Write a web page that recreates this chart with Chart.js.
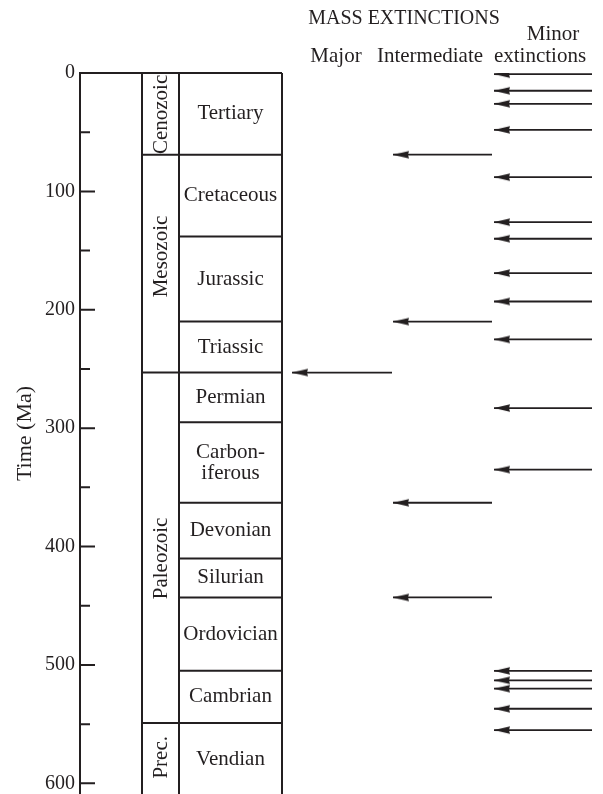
<!DOCTYPE html>
<html>
<head>
<meta charset="utf-8">
<title>Mass extinctions and the geologic time scale</title>
<script src="https://cdn.jsdelivr.net/npm/chart.js@4/dist/chart.umd.min.js"></script>
<style>
  html, body { margin: 0; padding: 0; background: #fff; }
</style>
</head>
<body>
<canvas id="chart" width="603" height="794"></canvas>
<script>
// Eras and periods (boundaries in Ma)
const eraNames = ["Cenozoic", "Mesozoic", "Paleozoic", "Prec."];
const eraBounds = [0, 69, 253, 549, 610];
const eraLabelAt = [35, 155, 410, 578];

const periodNames = ["Tertiary", "Cretaceous", "Jurassic", "Triassic", "Permian",
  ["Carbon-", "iferous"], "Devonian", "Silurian", "Ordovician", "Cambrian", "Vendian"];
const periodBounds = [0, 69, 138, 210, 253, 295, 363, 410, 443, 505, 549, 610];

// Extinction events (Ma)
const majorTimes = [253];
const intermediateTimes = [69, 210, 363, 443];
const minorTimes = [1, 15, 26, 48, 88, 126, 140, 169, 193, 225, 283, 335, 505, 513, 520, 537, 555];

// Axis ticks
const tickValues = [0, 50, 100, 150, 200, 250, 300, 350, 400, 450, 500, 550, 600];

const ink = "#231f20";
const serif = "'Liberation Serif', 'Times New Roman', serif";

// column layout on the x scale (0..520)
const col = { era: 62, period: 99, right: 202 };
const arrowCols = {
  major: { tip: 212, tail: 312 },
  intermediate: { tip: 313, tail: 412 },
  minor: { tip: 414, tail: 512 },
};

// arrowhead used as point style
const arrowHead = document.createElement("canvas");
arrowHead.width = 36;
arrowHead.height = 10;
(function () {
  const c = arrowHead.getContext("2d");
  c.fillStyle = ink;
  c.beginPath();
  c.moveTo(18, 5);
  c.lineTo(34, 1.3);
  c.lineTo(33, 5);
  c.lineTo(34, 8.7);
  c.closePath();
  c.fill();
})();

function arrowDatasets(times, cols) {
  return times.map((t) => ({
    data: [{ x: cols.tip, y: t }, { x: cols.tail, y: t }],
    showLine: true,
    borderColor: ink,
    borderWidth: 1.8,
    pointStyle: [arrowHead, "circle"],
    pointRadius: [5, 0],
    pointHoverRadius: 0,
  }));
}

const datasets = [
  ...arrowDatasets(majorTimes, arrowCols.major),
  ...arrowDatasets(intermediateTimes, arrowCols.intermediate),
  ...arrowDatasets(minorTimes, arrowCols.minor),
];

const geoPlugin = {
  id: "geo",
  beforeDatasetsDraw(chart) {
    const { ctx, chartArea, scales: { x, y } } = chart;
    const xl = x.getPixelForValue(0);
    const xe = x.getPixelForValue(col.era);
    const xp = x.getPixelForValue(col.period);
    const xr = x.getPixelForValue(col.right);
    const yTop = y.getPixelForValue(0);
    const yBot = chartArea.bottom + 2;

    ctx.save();
    ctx.strokeStyle = ink;
    ctx.lineWidth = 2;
    ctx.beginPath();
    ctx.moveTo(xl, yTop);
    ctx.lineTo(xr, yTop);
    [xe, xp, xr].forEach((px) => {
      ctx.moveTo(px, yTop);
      ctx.lineTo(px, yBot);
    });
    periodBounds.slice(1, -1).forEach((t) => {
      const py = y.getPixelForValue(t);
      ctx.moveTo(xp, py);
      ctx.lineTo(xr, py);
    });
    eraBounds.slice(1, -1).forEach((t) => {
      const py = y.getPixelForValue(t);
      ctx.moveTo(xe, py);
      ctx.lineTo(xp, py);
    });
    ctx.stroke();

    ctx.fillStyle = ink;
    ctx.font = "21px " + serif;
    ctx.textAlign = "center";
    ctx.textBaseline = "middle";

    // period names
    periodNames.forEach((name, i) => {
      const mid = y.getPixelForValue((periodBounds[i] + periodBounds[i + 1]) / 2);
      const cx = (xp + xr) / 2;
      if (Array.isArray(name)) {
        ctx.fillText(name[0], cx, mid - 10);
        ctx.fillText(name[1], cx, mid + 11);
      } else {
        ctx.fillText(name, cx, mid);
      }
    });

    // era names, rotated
    eraNames.forEach((name, i) => {
      ctx.save();
      ctx.translate((xe + xp) / 2 + 1, y.getPixelForValue(eraLabelAt[i]));
      ctx.rotate(-Math.PI / 2);
      ctx.fillText(name, 0, 0);
      ctx.restore();
    });
    ctx.restore();
  },
  afterDraw(chart) {
    const { ctx, scales: { x, y } } = chart;
    ctx.save();
    // inward tick marks
    ctx.strokeStyle = ink;
    ctx.lineWidth = 2;
    const ax = chart.chartArea.left;
    ctx.beginPath();
    y.ticks.forEach((tk) => {
      const py = y.getPixelForValue(tk.value);
      const len = tk.value % 100 === 0 ? 15 : 10;
      ctx.moveTo(ax, py);
      ctx.lineTo(ax + len, py);
    });
    ctx.stroke();

    // headings
    ctx.fillStyle = ink;
    ctx.textAlign = "center";
    ctx.textBaseline = "alphabetic";
    ctx.font = "20px " + serif;
    ctx.fillText("MASS EXTINCTIONS", x.getPixelForValue(324), 24);
    ctx.font = "21px " + serif;
    ctx.fillText("Minor", x.getPixelForValue(473), 40);
    ctx.fillText("Major", x.getPixelForValue(256), 62);
    ctx.fillText("Intermediate", x.getPixelForValue(350), 62);
    ctx.fillText("extinctions", x.getPixelForValue(460), 62);
    ctx.restore();
  },
};

new Chart(document.getElementById("chart"), {
  type: "scatter",
  data: { datasets },
  options: {
    responsive: false,
    animation: false,
    events: [],
    layout: { autoPadding: false, padding: { top: 73, right: 3, left: 0, bottom: 0 } },
    plugins: {
      legend: { display: false },
      tooltip: { enabled: false },
    },
    scales: {
      x: { type: "linear", min: 0, max: 520, display: false },
      y: {
        type: "linear",
        reverse: true,
        min: 0,
        max: 609,
        afterBuildTicks: (scale) => {
          scale.ticks = tickValues.map((v) => ({ value: v }));
        },
        afterFit: (scale) => {
          scale.width = 80;
          scale.paddingTop = 0;
          scale.paddingBottom = 0;
        },
        grid: { display: false, drawTicks: false },
        border: { display: true, color: ink, width: 2 },
        ticks: {
          padding: 5,
          color: ink,
          font: { family: serif, size: 20 },
          callback: (v) => (v % 100 === 0 ? String(v) : ""),
        },
        title: {
          display: true,
          text: "Time (Ma)",
          color: ink,
          font: { family: serif, size: 22 },
          padding: { top: 12, bottom: 0 },
        },
      },
    },
  },
  plugins: [geoPlugin],
});
</script>
</body>
</html>
